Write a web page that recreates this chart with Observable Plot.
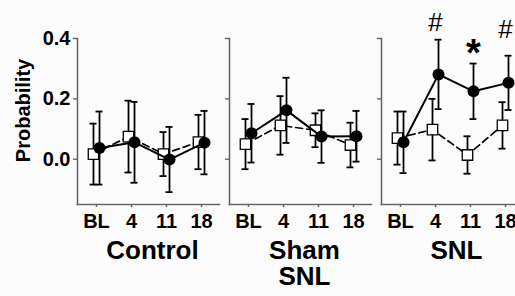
<!DOCTYPE html>
<html><head><meta charset="utf-8">
<script src="https://cdn.jsdelivr.net/npm/d3@7"></script>
<script src="https://cdn.jsdelivr.net/npm/@observablehq/plot@0.6"></script>
<style>
html,body{margin:0;padding:0;background:#fff;overflow:hidden;width:515px;height:296px}
#chart{width:515px;height:296px;overflow:hidden}
#chart svg{display:block;max-width:none !important;width:524px;height:296px}
</style></head><body><div id="chart"></div>
<script>
const groups = ["Control", "Sham SNL", "SNL"];
const weeks = ["BL", "4", "11", "18"];
const yTicks = [0, 0.2, 0.4];

// filled circles, solid line (mean, error)
const controlFilled    = [0.037, 0.056, -0.001, 0.055];
const controlFilledErr = [0.121, 0.134, 0.108, 0.105];
const shamFilled       = [0.086, 0.162, 0.075, 0.076];
const shamFilledErr    = [0.097, 0.108, 0.087, 0.084];
const snlFilled        = [0.056, 0.281, 0.225, 0.253];
const snlFilledErr     = [0.102, 0.115, 0.092, 0.090];

// open squares, dashed line (mean, error)
const controlOpen    = [0.017, 0.075, 0.017, 0.057];
const controlOpenErr = [0.101, 0.119, 0.073, 0.090];
const shamOpen       = [0.050, 0.112, 0.096, 0.047];
const shamOpenErr    = [0.083, 0.097, 0.056, 0.074];
const snlOpen        = [0.070, 0.098, 0.014, 0.112];
const snlOpenErr     = [0.088, 0.102, 0.062, 0.077];

// significance marks
const hashWeeks = ["4", "18"];
const hashY = [0.453, 0.43];
const starWeeks = ["11"];
const starY = [0.35];

const filledSets = [[controlFilled, controlFilledErr], [shamFilled, shamFilledErr], [snlFilled, snlFilledErr]];
const openSets = [[controlOpen, controlOpenErr], [shamOpen, shamOpenErr], [snlOpen, snlOpenErr]];
function rows(sets) {
  const out = [];
  sets.forEach(([m, e], gi) => weeks.forEach((w, wi) => out.push({group: groups[gi], week: w, mean: m[wi], err: e[wi]})));
  return out;
}
const filled = rows(filledSets);
const open = rows(openSets);
const hashes = hashWeeks.map((w, i) => ({group: "SNL", week: w, y: hashY[i]}));
const stars = starWeeks.map((w, i) => ({group: "SNL", week: w, y: starY[i]}));

const font = "Liberation Sans, Arial, Helvetica, sans-serif";
const axisGray = "#666";

function errMarks(data, dx) {
  const common = {fx: "group", stroke: "black", strokeWidth: 1.8, dx};
  return [
    Plot.ruleX(data, {...common, x: "week", y1: d => d.mean - d.err, y2: d => d.mean + d.err}),
    Plot.ruleY(data, {...common, x1: "week", x2: "week", y: d => d.mean + d.err, insetLeft: -3.5, insetRight: -3.5}),
    Plot.ruleY(data, {...common, x1: "week", x2: "week", y: d => d.mean - d.err, insetLeft: -3.5, insetRight: -3.5})
  ];
}

const chart = Plot.plot({
  width: 524,
  height: 296,
  marginLeft: 77,
  marginRight: 0,
  marginTop: 38,
  marginBottom: 92,
  style: {fontFamily: font, background: "#fcfcfc", color: "black", overflow: "visible", maxWidth: "none"},
  fx: {domain: groups, paddingInner: 0.0627, paddingOuter: 0, axis: null},
  x: {type: "point", domain: weeks, padding: 0.5, axis: null},
  y: {domain: [-0.15, 0.4], axis: null},
  marks: [
    Plot.frame({anchor: "left", stroke: axisGray, strokeWidth: 1.6}),
    Plot.frame({anchor: "bottom", stroke: axisGray, strokeWidth: 1.6}),
    Plot.axisY({ticks: yTicks, tickSize: 4, tickFormat: () => "", facetAnchor: null, stroke: axisGray, strokeWidth: 1.4}),
    Plot.axisY({ticks: yTicks, tickSize: 0, tickPadding: 7, tickFormat: d3.format(".1f"), fontSize: 20, fontWeight: "bold", fill: "black", label: null}),
    Plot.axisX({tickSize: 3, tickPadding: 6, fontSize: 20, fontWeight: "bold", stroke: axisGray, strokeWidth: 1.4, fill: "black", label: null}),
    Plot.axisFx({anchor: "bottom", tickSize: 0, tickPadding: 35, fontSize: 26, fontWeight: "bold", lineHeight: 1.03, dx: 4, label: null, fill: "black", tickFormat: d => d.replace(" ", "\n")}),
    Plot.text(["Probability"], {fx: ["Control"], text: d => d, frameAnchor: "left", textAnchor: "middle", rotate: -90, dx: -54, dy: -11, fontSize: 20, fontWeight: "bold", fill: "black"}),
    ...errMarks(open, -3),
    Plot.line(open, {fx: "group", x: "week", y: "mean", dx: -3, stroke: "black", strokeWidth: 1.7, strokeDasharray: "7,4"}),
    Plot.dot(open, {fx: "group", x: "week", y: "mean", dx: -3, symbol: "square", r: 5.9, fill: "white", stroke: "black", strokeWidth: 1.3}),
    ...errMarks(filled, 3),
    Plot.line(filled, {fx: "group", x: "week", y: "mean", dx: 3, stroke: "black", strokeWidth: 2}),
    Plot.dot(filled, {fx: "group", x: "week", y: "mean", dx: 3, r: 6, fill: "black", stroke: "none"}),
    Plot.text(hashes, {fx: "group", x: "week", y: "y", text: () => "#", fontSize: 26, fill: "black"}),
    Plot.text(stars, {fx: "group", x: "week", y: "y", text: () => "*", dx: 3, fontSize: 38, fontWeight: "bold", fill: "black"})
  ]
});
document.getElementById("chart").appendChild(chart);
</script></body></html>
